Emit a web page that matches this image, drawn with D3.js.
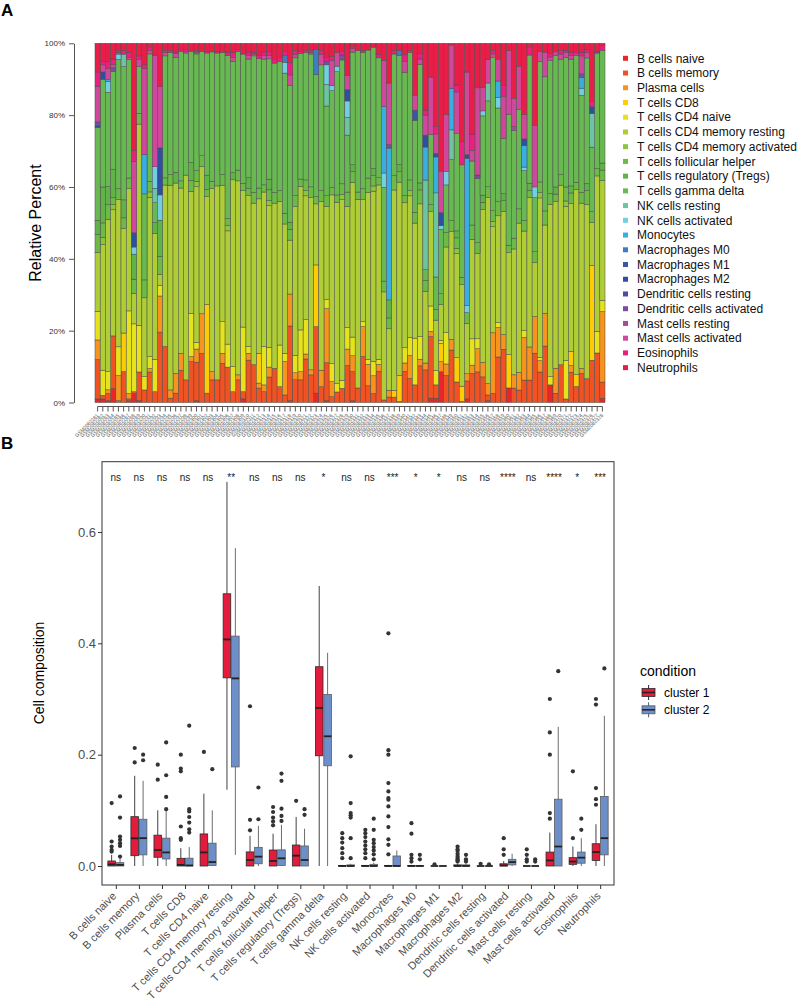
<!DOCTYPE html>
<html>
<head>
<meta charset="utf-8">
<script src="https://cdn.jsdelivr.net/npm/d3@7/dist/d3.min.js"></script>
<style>
body { margin: 0; background: #fff; }
svg { font-family: "Liberation Sans", Arial, Helvetica, sans-serif; }
</style>
</head>
<body>
<script>
// ---------------------------------------------------------------- data, panel A
var cellTypes = ["B cells naive", "B cells memory", "Plasma cells", "T cells CD8", "T cells CD4 naive",
  "T cells CD4 memory resting", "T cells CD4 memory activated", "T cells follicular helper",
  "T cells regulatory (Tregs)", "T cells gamma delta", "NK cells resting", "NK cells activated",
  "Monocytes", "Macrophages M0", "Macrophages M1", "Macrophages M2", "Dendritic cells resting",
  "Dendritic cells activated", "Mast cells resting", "Mast cells activated", "Eosinophils", "Neutrophils"];

var cellColors = ["#e8262a", "#f05223", "#f7941d", "#ffcb05", "#e6e31c", "#afcd36", "#8cc63f", "#6bbb46",
  "#5fb347", "#69b953", "#6cc5a2", "#72cfe1", "#38aee2", "#3e7dc1", "#3a56a5", "#2f4fa0", "#4e4ca0",
  "#7c4c9f", "#a44b9d", "#cf489b", "#ec1e80", "#e91e48"];

var sampleIds = ["GSM2082281","GSM2082282","GSM2082283","GSM2082284","GSM2082285","GSM2082286","GSM2082287","GSM2082288","GSM2082289","GSM2082290",
  "GSM2082291","GSM2082292","GSM2082293","GSM2082294","GSM2082295","GSM2082296","GSM2082297","GSM2082298","GSM2082299","GSM2082300",
  "GSM2082301","GSM2082302","GSM2082303","GSM2082304","GSM2082305","GSM2082306","GSM2082307","GSM2082308","GSM2082309","GSM2082310",
  "GSM2082311","GSM2082312","GSM2082313","GSM2082314","GSM2082315","GSM2082316","GSM2082317","GSM2082318","GSM2082319","GSM2082320",
  "GSM2082321","GSM2082322","GSM2082323","GSM2082324","GSM2082325","GSM2082326","GSM2082327","GSM2082328","GSM2082329","GSM2082330",
  "GSM2082331","GSM2082332","GSM2082333","GSM2082334","GSM2082335","GSM2082336","GSM2082337","GSM2082338","GSM2082339","GSM2082340",
  "GSM2082341","GSM2082342","GSM2082343","GSM2082344","GSM2082345","GSM2082346","GSM2082347","GSM2082348","GSM2082349","GSM2082350",
  "GSM2082351","GSM2082352","GSM2082353","GSM2082354","GSM2082355","GSM2082356","GSM2082357","GSM2082358","GSM2082359","GSM2082360",
  "GSM2082361","GSM2082362","GSM2082363","GSM2082364","GSM2082365","GSM2082366","GSM2082367","GSM2082368","GSM2082369","GSM2082370",
  "GSM2082371","GSM2082372","GSM2082373","GSM2082374","GSM2082375","GSM2082376","GSM2082377","GSM2082378"];

// percent per sample, one array per cell type
var bNaive = [1,1,0.5,4,0,0,0.5,2.5,0.5,0, 0,0,0,0,0,0,0,0,0,0.5, 0,0,0,0,0,0,0,0,1,0, 0,0,0,0,0,0,0,0.5,0,0,
  0,0,2.6,0,0.5,0,0,0,0,0.5, 0,0,0,0,0,0,0,0,0,0, 0,0,0,0,1.2,1.2,8.6,0,0,0, 0,1,0,0,0,0.5,0,0,0,4,
  0,0,0,0,0,0,0,4.9,0,0, 0,0,0,0,0,0,0,1.2];
var bMemory = [11,1,2,15,0.5,8.6,0.5,0.5,8,3.5, 8.6,3,19.5,15.6,1.2,2.6,9,6.3,11.4,10.9, 13.7,2.6,6.3,6.3,10.9,10,3,6.3,2,11.8,
  10.5,4,3,7.2,9.5,4.4,2.1,20.8,6.3,6.3, 12.3,7.7,18.5,4.4,10.6,1.6,2.9,4,10.4,8.3, 4,12.8,4.7,2.6,8.6,0.7,1.5,1.5,0.3,8.6,
  6.8,4.9,10.5,9.1,17,3.7,0,7.6,14.6,5.9, 0.3,5,8.2,8.6,7.2,1.6,2.6,12.8,15.1,0, 4,3.5,6.3,6.3,13.7,8.6,16,0,2.6,10.5,
  1,8.6,4.4,8.1,6.8,11.8,13.7,4.6];
var plasma = [5.5,0,1,0,7,0,1.5,0,0,0, 1,0,10,0,2.3,5.5,4.7,0,1.4,3.7, 11,0,2.3,0,2.8,0,0,1.4,0,1.9, 0,1.4,1.9,2.8,0,0,9.3,8.9,1.9,2.3,
  1.4,1.4,0,4.6,15.1,4.2,0,0,4.6,4.5, 0,8.3,6,5.1,1.9,0,1.9,0,0,2.3, 6.5,0,1.9,1.9,1.4,0,2.8,3.2,3,0, 0,2,2.3,6.5,4.1,3.2,17.1,8.3,4.2,0,
  3.7,5,12,9.3,10.2,3.2,9.3,0,7,0, 0,1.9,0,1.4,0,0,0,20];
var cd8 = [0,0,0,0,0,10.7,0,0,0,0, 0,0,0,0,0,0,0,0,0,0, 0,24.7,0,0,0,0,0,0,0,0, 0,8.3,0,0,0,0,0,0,0,0,
  0,0,17.2,0,0,0,0,0,0,0, 0,0,0,0,0,0,0,1.9,7.4,0, 0,0,0,0,0,0,5.1,0,0,7, 4.2,0,0,0,0,0,0,0,0,9.2,
  0,0,0,0,0,0,0,0,0,0, 0,4,3.3,0,0,26.5,0,0];
var cd4Naive = [8,7,5,0,8,0,23,19,13,3.7, 3.4,9,3,0,0,0,0,0,12,1.9, 0,0,0,0,8.8,6.5,7,0,18,1.9, 0,0,10.7,5.6,0,11.6,2.3,0,4.8,11.6,
  9.7,0,0,0,2.5,5,2.3,2.3,6.1,5.3, 0,1.4,1.4,4.2,1.4,0,0,0,0,4.2, 5.1,13,6.5,0,7,4,0.9,8.8,0,0, 0,0,7.4,2.8,0,0,0,1.4,0,0,
  0,0,1.9,0,0,0.9,0,2.3,0,0, 11,0,0,0,0,0,6,3.2];
var cd4MemResting = [16.5,35,42,36,41,29,34,8.5,56,22, 45,35,3,45,57,53,46,57,34,44, 41,30,51,54,38,32,52,54,38,42, 45,43,43,40,46,40,36,15,41,40,
  35,48,17,47,26,47,50,51,34,44, 52,34,47,49,48,30,17,56,55,40, 40,32,38,20,26,14,10,24,30,30, 28,14,28,24,43,52,30,30,35,28,
  35,42,28,42,15,45,25,48,47,50, 44,42,51,46,50,12,43,34];
var cd4MemActivated = [0,2,0,1.5,0,0,0,0,0,0, 1.5,0,0,0,0,0,0,0,0,1.5, 0,0,0,0,0,1.5,0,0,0,0, 0,0,0,1.5,0,0,0,0,0,0,
  1.5,0,0,0,0,0,0,1.5,0,0, 0,0,0,1.5,0,0,0,0,0,0, 1.5,0,0,0,0,0,0,0,0,1.5, 0,0,0,0,0,0,1.5,0,0,0,
  0,0,0,0,0,1.5,0,0,0,0, 1.5,0,0,0,0,0,0,0];
var tfh = [5,4,4,2,3,3,3,4,3,5, 3,0,5,2,3,0,2,0,3,3, 3,2,2,0,3,2,0,3,2,2, 3,3,2,3,3,3,3,3,3,2,
  3,3,2,3,3,2,2,3,4,3, 2,3,4,3,2,3,3,4,3,2, 3,3,4,3,2,3,3,4,3,3, 2,3,4,3,2,3,3,4,3,2,
  3,4,3,2,3,3,4,3,2,3, 4,3,2,3,4,3,2,3];
var tregs = [4,10,5,8,0,5,0,7,0,0, 0,3,10,0,0,3,0,0,5,0, 0,4,0,0,0,0,2,0,0,3, 0,0,0,3,0,0,0,2,0,0,
  0,0,0,0,0,0,0,0,0,2, 0,0,0,2,0,0,5,0,2,0, 0,0,2,0,0,0,0,0,0,2, 0,0,0,0,2,0,0,0,2,0,
  0,0,0,2,0,0,0,0,2,0, 0,2,0,0,2,0,0,2];
var gammaDelta = [26,30,26,28,36,37,33,0,13,24, 36,5.5,0,34,34,32,36,34,31,33, 29,34,36,37,34,46,31,33,36,33, 38,36,35,34,36,36,39,38,38,35,
  36,37,34,35,25,27,34,35,16,32, 39,38,36,35,33,26,0,34,31,34, 36,25.6,34,3,19.3,9,18,13.4,17,28, 31,0,18,18,22.3,24,43.3,26.3,15.7,36,
  30,28,14,36,15,34,38,37,37,32, 37,36,35,27,36,18,32,32];
var nkResting = [0,0,0,0,0,3.5,0,0,0,0, 0,4,0,0,0,0,0,0,0,0, 0,0,0,0,0,0,0,0,0,0, 0,0,0,0,0,0,0,0,0,0,
  0,0,0,0,6,0,0,0,5,0, 0,0,0,0,0,0,0,0,0,0, 0,0,0,25,0,23.4,0,0,8.3,0, 0,0,0,0,0,5,0,0,0,0,
  0,0,0,0,0,0,0,0,0,0, 0,0,0,0,0,9.4,0,0];
var nkActivated = [0,0,3,0,1.5,0,0,2,0,0, 0,6,7,0,0,0,0,0,0,0, 0,0,0,0,0,0,0,0,0,0, 0,0,0,0,0,0,3,0,0,0,
  0,0,0,0,5.5,1.5,1.5,0,4.6,0, 0,0,0,0,0,4,0,0,0,0, 0,0,0,0,0,0,1,3.7,0,0, 0,2,0,0,1.4,0,0,3,0,0,
  0,0,1,0,3,0,0,0,0,0, 0,0,0,2,0,0,0,0];
var monocytes = [0,0,0.5,0,0,0,0,0,0,11, 0,0,0,0,0,0,0,0,0,0, 0,0,0,0,0,0,0,0,0,0, 0,0,0,0,0,0,0,0,0,0,
  0,0,0,0,0,0,0,0,0,0, 0,0,0,0,0,18.4,42,0,0,0, 0,0,0,9.2,0,10,0,0,11.6,0, 0,41,0,0,0,0,0,4.6,0,0,
  0,0,6,0,0,0,0,0,0,0, 0,0,0,3,0,0,0,0];
var macroM0 = [0,0,0,0,0,0,0,0,0,0, 0,0,0,0,0,0,0,0,0,0, 0,0,0,0,0,0,0,0,0,0, 0,0,0,0,0,0,2,0,0,0,
  0,0,7,0,0,0,0,0,0,0, 0,0,0,0,0,0,0,0,1.5,0, 0,0,0,0,0,0,0,0,0,0, 0,0,0,0,0,0,0,0,0,0,
  0,0,0,0,0,0,0,0,0,0, 0,0,0,0,0,0,0,0];
var macroM1 = [0,0,0,0,0,0,0,0,0,0, 0,0,0,0,0,0,0,0,0,0, 0,0,0,0,0,0,0,0,0,0, 0,0,0,0,0,0,0,0,0,0,
  0,0,0,0,0,0,0,0,0,0, 0,0,0,0,0,0,0,0,0,0, 0,2.8,0,0,0,0,0,0,0,0, 0,0,0,0,0,0,0,0,0,0,
  0,0,0,0,0,0,0,0,0,0, 0,0,0,0,0,0,0,0];
var macroM2 = [0.5,2,0,0,0,0,0,4,0,0, 0,0,13,0,0,0,0,0,0,0, 0,0,0,0,0,0,0,0,0,0, 0,0,0,0,0,0,0,0,0,0,
  0,0,0,0,0,0,0,0,3.2,0, 0,0,0,0,0,0,0,0,0,0, 0,0,0,3.3,0,1,3.7,0,0,0, 0,1,0,0,0,0,0,0,0,0,
  0,0,1.9,0,0,0,0,0,0,0, 0,0,0,0,0,1.9,0,0];
var dcResting = [0,0,0,0,0,0,0,0,0,0, 0,0,0,0,0,0,0,0,0,0, 0,0,0,0,0,0,0,0,0,0, 0,0,0,0,0,0,0,0,0,0,
  0,0,0,0,0,0,0,0,0,0, 0,0,0,0,0,0,0,0,0,0, 0,0,0,0,0,0,0,0,0,0, 0,0,0,0,0,0,0,0,0,0,
  0,0,0,0,0,0,0,0,0,0, 0,0,0,0,0,0,0,0];
var dcActivated = [1,0,0,1,0,0,0,0,0,0, 0,0,0,0,0,0,0,0,0,0, 0,0,0,0,0,0,0,0,0,0, 0,0,0,0,0,0,0,0,0,0,
  0,0,0,0,1,0,0,1.4,0,0, 0,0,0,0,0,0,1,0,0,0, 0,0,0,0,0,0,0,0,0,0, 0,0,0,1,0,0,0,0,0,0,
  0,0,0,0,0,0,0,0,0,0, 0,0,0,1,0,0,0.5,0];
var mastResting = [0,0,0,0,0,0,0,0,0,0, 0,0,0,0,0,0,0,0,0,0, 0,0,0,0,0,0,0,0,0,0, 0,0,0,0,0,0,0,0,0,0,
  0,0,0,0,0,0,0,0,0,0, 0,0,0,0,0,0,0,0,0,0, 0,0,0,0,0,0,0,0,0,0, 0,0,0,0,0,0,0,0,0,0,
  1,0,0,0,0,0,0,0,0,0, 0,0,0,0,0,0,0,0];
var mastActivated = [10,2,3,1,0.5,0,0.5,20,2,24, 1,31,17,1,0,1,0,0.5,0,0.5, 0,0,0,0,0,0,1,0,0,1, 0.5,0,1,1,0,0,0,3,1,0,
  0,0.5,0,3,0,7,3.7,0,4,1, 0,0,0,0,0,12.9,17,0,0,3, 0,4.2,1.5,5.6,15.8,5.4,11.6,16,12,12, 0,23,3,24.5,6.5,6.5,1,6,12,17.5,
  7.9,12.1,6.9,0,17.1,2.8,7,1,1,1.5, 1.5,1,0.5,5,1.5,0,0,0];
var eosinophils = [4,1,2,1.5,0.5,1,1.5,3,1,1, 1,0,0,0.5,0.5,0.5,0.5,0.5,0,0.5, 0,0.5,0,0.5,0,1,1.5,0.5,0,1, 0.5,1,1,1,1,1,1,3.5,1,0.5,
  0.5,0.5,0,1,1,1,0,1,0,0.5, 0,0.5,0,0,1,0,0,1,0,2, 0.6,0,1.5,1.4,0,2,0,0,0,2, 6.5,0,4.6,0,0,0,1,0,3,0,
  0,0,0,2.3,0,0,0,1,0,1, 0.5,1,0.5,1,1,1.4,0,1.4];
var neutrophils = [8,5,5,4.5,2,2,2.5,30,3.5,6, 1,3.3,12,2,2,2.4,1.8,1.7,2.2,2, 2.3,2.2,2.4,2.2,2.5,2.5,2.5,1.8,3,2.4, 2.5,3.3,2.4,2.4,4.5,4,2.3,5.3,2,2.3,
  2.1,2,1.7,2,4,3.7,2.6,2.3,9,1, 2,2,1.9,1.1,3,4.7,11,2,2,3, 2,14.4,3,18.6,9.3,23.2,35.7,20,0.5,12, 27,8,25.5,12.5,12.5,4.6,2,4.6,12,2,
  15.3,6.5,20,1,22.8,2.3,2.5,2.8,2.4,2, 2,2.5,2.3,2.5,1.7,16.3,2.2,0.6];

var fractions = [bNaive, bMemory, plasma, cd8, cd4Naive, cd4MemResting, cd4MemActivated, tfh, tregs, gammaDelta,
  nkResting, nkActivated, monocytes, macroM0, macroM1, macroM2, dcResting, dcActivated, mastResting, mastActivated,
  eosinophils, neutrophils];

// ---------------------------------------------------------------- data, panel B
var sigLabels = ["ns","ns","ns","ns","ns","**","ns","ns","ns","*","ns","ns","***","*","*","ns","ns","****","ns","****","*","***"];
var conditions = ["cluster 1", "cluster 2"];

var c1Low  = [0,0,0,0,0,0.137,0,0,0,0,0,0,0,0,0,0,0,0,0,0,0,0];
var c1Q1   = [0,0.0185,0.0157,0,0,0.338,0,0,0,0.198,0,0,0,0,0,0,0,0,0,0,0.003,0.01];
var c1Med  = [0.003,0.0497,0.0287,0.002,0.0244,0.407,0.0108,0.009,0.0186,0.284,0,0,0,0,0,0,0,0.001,0,0.01,0.008,0.025];
var c1Q3   = [0.009,0.0886,0.0554,0.0138,0.0576,0.489,0.0253,0.0287,0.0377,0.358,0.001,0.001,0.001,0.001,0,0.002,0,0.004,0,0.025,0.015,0.04];
var c1High = [0.02,0.162,0.1,0.032,0.13,0.69,0.054,0.058,0.088,0.503,0.002,0.002,0.002,0.002,0,0.004,0,0.009,0,0.06,0.035,0.075];
var c1Out  = [[0.113,0.044,0.035,0.029,0.026], [0.212,0.186], [0.182,0.155], [0.2,0.175,0.17,0.071,0.05,0.047], [0.205], [],
  [0.287,0.083,0.064], [0.106,0.097,0.087,0.08,0.073], [0.117], [],
  [0.059,0.05,0.042,0.032,0.023,0.014], [0.065,0.059,0.052,0.044,0.037,0.03,0.023,0.014],
  [0.418,0.208,0.2,0.149,0.134,0.122,0.119,0.107,0.089,0.07,0.048,0.038,0.021], [0.077,0.058,0.02,0.014,0.008], [0.003],
  [0.035,0.03,0.027,0.022,0.018,0.015,0.012,0.01,0.008], [0.004], [0.05,0.03,0.02], [0.03,0.02,0.012,0.008],
  [0.3,0.24,0.2,0.095,0.085], [0.17,0.05], [0.3,0.29,0.14,0.12,0.11]];

var c2Low  = [0,0,0,0,0,0.02,0,0,0,0,0,0,0,0,0,0,0,0,0,0,0,0];
var c2Q1   = [0,0.02,0.0126,0,0.001,0.178,0.004,0.001,0,0.18,0,0,0,0,0,0,0,0.002,0,0,0.005,0.02];
var c2Med  = [0.002,0.05,0.0244,0.001,0.0071,0.337,0.0168,0.0138,0.0108,0.233,0,0,0,0,0,0,0,0.007,0,0.035,0.015,0.05];
var c2Q3   = [0.006,0.084,0.05,0.014,0.041,0.413,0.0335,0.029,0.036,0.308,0.002,0.003,0.018,0.001,0,0.002,0,0.012,0,0.12,0.025,0.125];
var c2High = [0.014,0.153,0.1,0.034,0.1,0.571,0.072,0.074,0.067,0.383,0.004,0.006,0.028,0.002,0,0.004,0,0.022,0,0.25,0.05,0.27];
var c2Out  = [[0.125,0.087,0.053,0.047,0.041,0.036,0.017], [0.2,0.19], [0.222,0.163,0.124,0.102],
  [0.252,0.102,0.098,0.088,0.078,0.066,0.06], [0.174], [], [0.141,0.084], [0.166,0.153,0.103,0.09,0.081], [0.102,0.092], [],
  [0.197,0.113,0.095,0.091,0.087,0.05,0.014], [0.085,0.065,0.047,0.041,0.034,0.028,0.021,0.012], [], [0.02,0.012], [],
  [0.02,0.012,0.008], [0.003], [], [0.012,0.008], [0.35], [0.085,0.065], [0.355]];

var clusterColors = ["#e31b3d", "#6d8fc9"];
var whiskerColors = ["#2b2b2b", "#5c5c5c"];

// ---------------------------------------------------------------- svg
var svg = d3.select("body")
            .append("svg")
            .attr("width", 800)
            .attr("height", 1008);

/*
>>>>>>>>>>>>>>>>>>>>>>>>>>>>>>>>>>>>>>>>>>>>>>>>>>>>>>>>>>>>>>>>>>>>>>>>>>>>> Panel A
*/
var rowsA = sampleIds.map(function (s, i) {
  var r = { sample: s };
  cellTypes.forEach(function (c, k) { r[c] = fractions[k][i]; });
  return r;
});

var stackA = d3.stack()
               .keys(cellTypes)
               .offset(d3.stackOffsetExpand)(rowsA);

var xA = d3.scaleBand()
           .domain(sampleIds)
           .range([95, 605]);

var yA = d3.scaleLinear()
           .domain([0, 1])
           .range([402.5, 43.3]);

var colA = d3.scaleOrdinal()
             .domain(cellTypes)
             .range(cellColors);

svg.append("g")
   .selectAll("g")
   .data(stackA)
   .enter()
   .append("g")
   .attr("fill", function (d) { return colA(d.key); })
   .selectAll("rect")
   .data(function (d) { return d.filter(function (p) { return p[1] - p[0] > 0; }); })
   .enter()
   .append("rect")
   .attr("x", function (p) { return xA(p.data.sample); })
   .attr("y", function (p) { return yA(p[1]); })
   .attr("width", xA.bandwidth())
   .attr("height", function (p) { return yA(p[0]) - yA(p[1]); })
   .attr("stroke", "#4a4a4a")
   .attr("stroke-width", 0.5);

// y axis
var yAxisA = d3.axisLeft(yA)
               .tickValues([0, 0.2, 0.4, 0.6, 0.8, 1])
               .tickFormat(d3.format(".0%"))
               .tickSize(5)
               .tickSizeOuter(0)
               .tickPadding(4);

var gyA = svg.append("g")
             .attr("transform", "translate(74,0)")
             .call(yAxisA);
gyA.select(".domain").attr("stroke", "#555");
gyA.selectAll(".tick line").attr("stroke", "#555");
gyA.selectAll(".tick text").attr("font-size", 8).attr("fill", "#333");

svg.append("text")
   .attr("transform", "translate(41,223) rotate(-90)")
   .attr("text-anchor", "middle")
   .attr("font-size", 16)
   .text("Relative Percent");

// x axis (sample names)
var xAxisA = d3.axisBottom(xA).tickSize(5).tickSizeOuter(0);
var gxA = svg.append("g")
             .attr("transform", "translate(0,406.5)")
             .call(xAxisA);
gxA.select(".domain").remove();
gxA.append("line")
   .attr("x1", xA(sampleIds[0]) + xA.bandwidth() / 2)
   .attr("x2", xA(sampleIds[sampleIds.length - 1]) + xA.bandwidth() / 2)
   .attr("stroke", "#555");
gxA.selectAll(".tick line").attr("stroke", "#555");
gxA.selectAll(".tick text")
   .attr("y", 0)
   .attr("dy", "0.35em")
   .attr("font-size", 5)
   .attr("fill", "#555")
   .attr("text-anchor", "end")
   .attr("transform", "translate(0,8) rotate(-45)");

// legend
var legA = svg.append("g")
              .selectAll("g")
              .data(cellTypes)
              .enter()
              .append("g")
              .attr("transform", function (d, i) { return "translate(623," + (58.3 + i * 14.73) + ")"; });
legA.append("rect")
    .attr("x", 0).attr("y", -2.5)
    .attr("width", 5).attr("height", 5)
    .attr("fill", function (d) { return colA(d); });
legA.append("text")
    .attr("x", 14)
    .attr("dy", "0.35em")
    .attr("font-size", 12)
    .attr("fill", "#111")
    .text(function (d) { return d; });

svg.append("text").attr("x", 1).attr("y", 16).attr("font-size", 17).attr("font-weight", "bold").text("A");

/*
>>>>>>>>>>>>>>>>>>>>>>>>>>>>>>>>>>>>>>>>>>>>>>>>>>>>>>>>>>>>>>>>>>>>>>>>>>>>> Panel B
*/
var plotL = 102, plotR = 614, plotT = 461.7, plotB = 885;

var xB = d3.scalePoint()
           .domain(cellTypes)
           .range([plotL, plotR])
           .padding(0.6);

var yB = d3.scaleLinear()
           .domain([0, 0.6])
           .range([866, 532]);

var boxW = 7.6;
var dodge = [-4.2, 4.2];

var boxData = [];
cellTypes.forEach(function (c, i) {
  boxData.push({ cell: c, k: 0, low: c1Low[i], q1: c1Q1[i], med: c1Med[i], q3: c1Q3[i], high: c1High[i], out: c1Out[i] });
  boxData.push({ cell: c, k: 1, low: c2Low[i], q1: c2Q1[i], med: c2Med[i], q3: c2Q3[i], high: c2High[i], out: c2Out[i] });
});

var boxes = svg.append("g")
               .selectAll("g")
               .data(boxData)
               .enter()
               .append("g")
               .attr("transform", function (d) { return "translate(" + (xB(d.cell) + dodge[d.k]) + ",0)"; });

boxes.append("line")
     .attr("y1", function (d) { return yB(d.high); })
     .attr("y2", function (d) { return yB(d.q3); })
     .attr("stroke", function (d) { return whiskerColors[d.k]; }).attr("stroke-width", 0.9);
boxes.append("line")
     .attr("y1", function (d) { return yB(d.q1); })
     .attr("y2", function (d) { return yB(d.low); })
     .attr("stroke", function (d) { return whiskerColors[d.k]; }).attr("stroke-width", 0.9);
boxes.append("rect")
     .attr("x", -boxW / 2)
     .attr("width", boxW)
     .attr("y", function (d) { return yB(d.q3); })
     .attr("height", function (d) { return Math.max(0, yB(d.q1) - yB(d.q3)); })
     .attr("fill", function (d) { return clusterColors[d.k]; })
     .attr("stroke", function (d) { return whiskerColors[d.k]; })
     .attr("stroke-width", 0.8);
boxes.append("line")
     .attr("x1", -boxW / 2).attr("x2", boxW / 2)
     .attr("y1", function (d) { return yB(d.med); })
     .attr("y2", function (d) { return yB(d.med); })
     .attr("stroke", "#222").attr("stroke-width", 1.8);
boxes.selectAll("circle")
     .data(function (d) { return d.out; })
     .enter()
     .append("circle")
     .attr("cy", function (v) { return yB(v); })
     .attr("r", 2.1)
     .attr("fill", "#333");

// significance
svg.append("g")
   .selectAll("text")
   .data(sigLabels)
   .enter()
   .append("text")
   .attr("x", function (d, i) { return xB(cellTypes[i]); })
   .attr("y", 481)
   .attr("text-anchor", "middle")
   .attr("font-size", 10)
   .attr("fill", "#222")
   .text(function (d) { return d; });

// frame
svg.append("rect")
   .attr("x", plotL).attr("y", plotT)
   .attr("width", plotR - plotL).attr("height", plotB - plotT)
   .attr("fill", "none").attr("stroke", "#333").attr("stroke-width", 1);

var yAxisB = d3.axisLeft(yB).tickValues([0, 0.2, 0.4, 0.6]).tickFormat(d3.format(".1f")).tickSize(4).tickPadding(2);
var gyB = svg.append("g").attr("transform", "translate(" + plotL + ",0)").call(yAxisB);
gyB.select(".domain").remove();
gyB.selectAll(".tick line").attr("stroke", "#333");
gyB.selectAll(".tick text").attr("font-size", 13).attr("fill", "#4d4d4d");

var xAxisB = d3.axisBottom(xB).tickSize(4).tickSizeOuter(0);
var gxB = svg.append("g").attr("transform", "translate(0," + plotB + ")").call(xAxisB);
gxB.select(".domain").remove();
gxB.selectAll(".tick line").attr("stroke", "#333");
gxB.selectAll(".tick text")
   .attr("y", 0).attr("dy", "0.35em")
   .attr("font-size", 11)
   .attr("fill", "#4d4d4d")
   .attr("text-anchor", "end")
   .attr("transform", "translate(-2,9) rotate(-45)");

svg.append("text")
   .attr("transform", "translate(44,673) rotate(-90)")
   .attr("text-anchor", "middle")
   .attr("font-size", 14)
   .text("Cell composition");

// legend
svg.append("text").attr("x", 640).attr("y", 676).attr("font-size", 14).text("condition");
var legB = svg.append("g")
              .selectAll("g")
              .data(conditions)
              .enter()
              .append("g")
              .attr("transform", function (d, i) { return "translate(640," + (684 + i * 17.3) + ")"; });
legB.append("line").attr("x1", 8.6).attr("x2", 8.6).attr("y1", 1).attr("y2", 16)
    .attr("stroke", function (d, i) { return whiskerColors[i]; });
legB.append("rect")
    .attr("x", 2).attr("y", 4.5).attr("width", 13).attr("height", 8)
    .attr("fill", function (d, i) { return clusterColors[i]; })
    .attr("stroke", function (d, i) { return whiskerColors[i]; }).attr("stroke-width", 0.8);
legB.append("line").attr("x1", 2).attr("x2", 15).attr("y1", 8.5).attr("y2", 8.5).attr("stroke", "#222").attr("stroke-width", 1.5);
legB.append("text").attr("x", 24).attr("y", 8.6).attr("dy", "0.35em").attr("font-size", 12).text(function (d) { return d; });

svg.append("text").attr("x", 1).attr("y", 449).attr("font-size", 17).attr("font-weight", "bold").text("B");
</script>
</body>
</html>
